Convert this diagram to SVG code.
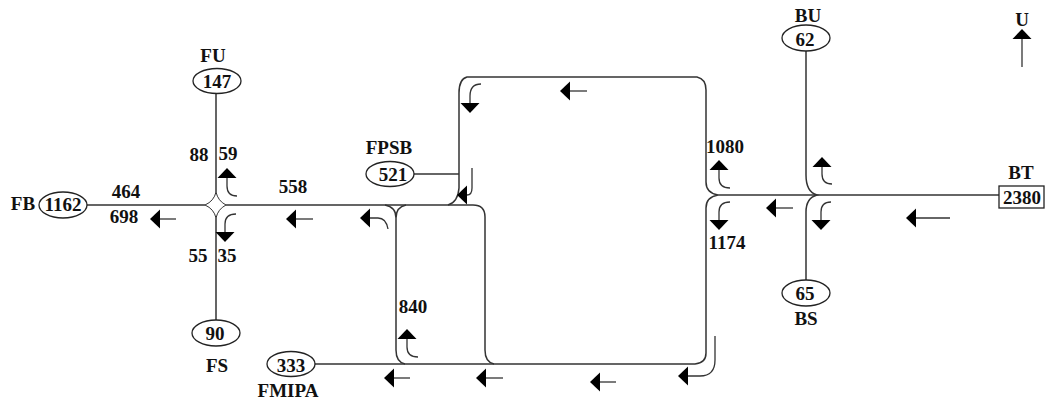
<svg xmlns="http://www.w3.org/2000/svg" width="1046" height="403" viewBox="0 0 1046 403">
<style>
text{font-family:"Liberation Serif","Times New Roman",serif;font-weight:bold;font-size:19px;fill:#111;text-anchor:middle}
.n{fill:#fff;stroke:#222;stroke-width:1.3}
.l{fill:none;stroke:#333;stroke-width:1.5}
.a{fill:none;stroke:#333;stroke-width:1.3;marker-end:url(#h)}
</style>
<defs>
<marker id="h" markerUnits="userSpaceOnUse" markerWidth="11" markerHeight="20" viewBox="0 0 11 20" refX="1" refY="10" orient="auto"><path d="M0 0.5L10 10L0 19.5Z" fill="#000"/></marker>
</defs>
<rect width="1046" height="403" fill="#fff"/>
<g id="connectors">
<path class="l" d="M87 205H205M226 205H473Q485 205 485 217V350Q485 362 494 364"/>
<path class="l" d="M216 94V192M216 218V320"/>
<path class="l" d="M216 192Q218 201 226 205Q218 209 216 218Q214 209 205 205Q214 201 216 192" style="stroke-width:1"/>
<path class="l" d="M385 205Q396 207 396 218Q396 207 406 205M396 218V350Q396 362 405 364"/>
<path class="l" d="M315 364H695Q706 363 706 353V208Q706 197 718 195Q706 193 706 182V90Q706 79 697 77H467Q459 79 459 93V188Q458 202 448 205"/>
<path class="l" d="M414 174H459"/>
<path class="l" d="M718 195H999"/>
<path class="l" d="M806 51V175Q806 192 817 195Q806 198 806 212V280"/>
<path class="a" d="M176 219H159"/>
<path class="a" d="M313 219H295"/>
<path class="a" d="M388 229Q386 218 378 218H369"/>
<path class="a" d="M410 378H393"/>
<path class="a" d="M503 378H485"/>
<path class="a" d="M616 382H599"/>
<path class="a" d="M715 336V360Q715 376 700 376H687"/>
<path class="a" d="M587 91H569"/>
<path class="a" d="M793 208H775"/>
<path class="a" d="M950 218H915"/>
<path class="a" d="M1022 67V38"/>
<path class="a" d="M237 196Q227 196 227 186V177"/>
<path class="a" d="M236 214Q225 214 225 224V233"/>
<path class="a" d="M481 84Q470 84 470 96V104"/>
<path class="a" d="M472 168V188Q472 195 467 195H466"/>
<path class="a" d="M418 357Q407 357 407 347V338"/>
<path class="a" d="M730 188Q719 188 719 178V169"/>
<path class="a" d="M730 202Q719 202 719 212V221"/>
<path class="a" d="M832 184Q822 184 822 174V166"/>
<path class="a" d="M831 202Q821 202 821 212V221"/>
</g>
<g id="node-FU"><text x="213" y="62">FU</text><ellipse class="n" cx="217" cy="81" rx="24" ry="12.5"/><text x="217" y="88">147</text></g>
<g id="node-FB"><text x="23" y="210">FB</text><ellipse class="n" cx="63" cy="205" rx="24" ry="13"/><text x="63" y="211">1162</text></g>
<g id="node-FS"><ellipse class="n" cx="216" cy="333" rx="24" ry="13"/><text x="215" y="340">90</text><text x="217" y="372">FS</text></g>
<g id="node-FMIPA"><ellipse class="n" cx="291" cy="364" rx="24" ry="12.5"/><text x="291" y="372">333</text><text x="288" y="397">FMIPA</text></g>
<g id="node-FPSB"><text x="389" y="154">FPSB</text><ellipse class="n" cx="390" cy="174" rx="24" ry="12.5"/><text x="393" y="181">521</text></g>
<g id="node-BU"><text x="808" y="22">BU</text><ellipse class="n" cx="806" cy="38" rx="24" ry="13"/><text x="805" y="46">62</text></g>
<g id="node-BS"><ellipse class="n" cx="806" cy="293" rx="24" ry="13"/><text x="805" y="300">65</text><text x="806" y="325">BS</text></g>
<g id="node-BT"><text x="1021" y="179">BT</text><rect class="n" x="999" y="186" width="45" height="22"/><text x="1022" y="204">2380</text></g>
<g id="labels">
<text x="199" y="161">88</text><text x="228" y="160">59</text>
<text x="126" y="198">464</text><text x="124" y="223">698</text>
<text x="293" y="193">558</text>
<text x="198" y="262">55</text><text x="227" y="262">35</text>
<text x="413" y="313">840</text>
<text x="725" y="153">1080</text><text x="727" y="249">1174</text>
<text x="1022" y="26">U</text>
</g>
</svg>
